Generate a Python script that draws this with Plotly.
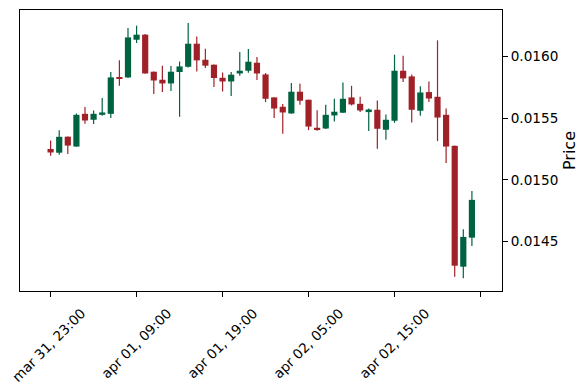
import plotly.graph_objects as go

# Hourly candles, mar 31 23:00 -> apr 03 00:00
opens = [0.015250, 0.015220, 0.015350, 0.015270, 0.015535, 0.015487, 0.015527, 0.015535, 0.015833, 0.015830,
         0.016135, 0.016176, 0.015876, 0.015811, 0.015781, 0.015874, 0.015916, 0.016103, 0.015973, 0.015933,
         0.015827, 0.015797, 0.015862, 0.015884, 0.015949, 0.015854, 0.015668, 0.015592, 0.015538, 0.015714,
         0.015649, 0.015422, 0.015416, 0.015522, 0.015544, 0.015668, 0.015616, 0.015549, 0.015568, 0.015406,
         0.015479, 0.015884, 0.015838, 0.015560, 0.015711, 0.015673, 0.015527, 0.015276, 0.014297, 0.014532]
highs = [0.015319, 0.015403, 0.015352, 0.015538, 0.015590, 0.015562, 0.015663, 0.015874, 0.015968, 0.016230,
         0.016249, 0.016182, 0.015878, 0.015925, 0.015922, 0.015959, 0.016271, 0.016162, 0.016062, 0.015935,
         0.015870, 0.015874, 0.016036, 0.016060, 0.015995, 0.015865, 0.015670, 0.015614, 0.015784, 0.015779,
         0.015650, 0.015565, 0.015608, 0.015657, 0.015789, 0.015762, 0.015673, 0.015578, 0.015643, 0.015530,
         0.016014, 0.016006, 0.015854, 0.015758, 0.015797, 0.016130, 0.015578, 0.015278, 0.014600, 0.014909]
lows = [0.015195, 0.015203, 0.015209, 0.015268, 0.015454, 0.015452, 0.015520, 0.015501, 0.015762, 0.015825,
        0.016109, 0.015860, 0.015695, 0.015711, 0.015719, 0.015511, 0.015911, 0.015878, 0.015906, 0.015752,
        0.015716, 0.015679, 0.015844, 0.015868, 0.015809, 0.015630, 0.015501, 0.015373, 0.015536, 0.015608,
        0.015403, 0.015398, 0.015412, 0.015473, 0.015542, 0.015603, 0.015549, 0.015395, 0.015252, 0.015325,
        0.015462, 0.015792, 0.015465, 0.015519, 0.015630, 0.015314, 0.015136, 0.014216, 0.014203, 0.014465]
closes = [0.015222, 0.015349, 0.015278, 0.015527, 0.015481, 0.015535, 0.015546, 0.015830, 0.015825, 0.016154,
          0.016176, 0.015862, 0.015805, 0.015781, 0.015876, 0.015919, 0.016103, 0.015968, 0.015925, 0.015825,
          0.015797, 0.015852, 0.015884, 0.015957, 0.015862, 0.015657, 0.015578, 0.015546, 0.015714, 0.015641,
          0.015432, 0.015406, 0.015527, 0.015552, 0.015657, 0.015611, 0.015562, 0.015570, 0.015414, 0.015487,
          0.015884, 0.015822, 0.015568, 0.015708, 0.015659, 0.015505, 0.015270, 0.014305, 0.014538, 0.014838]

tick_positions = [0, 10, 20, 30, 40, 50]
tick_labels = ["mar 31, 23:00", "apr 01, 09:00", "apr 01, 19:00", "apr 02, 05:00", "apr 02, 15:00", ""]
y_ticks = [0.0145, 0.0150, 0.0155, 0.0160]

UP = "#006340"
DOWN = "#a02128"

fig = go.Figure()
for is_up, color in [(True, UP), (False, DOWN)]:
    idx = [i for i in range(len(opens)) if (closes[i] >= opens[i]) == is_up]
    wx, wy = [], []
    for i in idx:
        wx += [i, i, None]
        wy += [lows[i], highs[i], None]
    fig.add_trace(go.Scatter(x=wx, y=wy, mode="lines",
                             line=dict(color=color, width=1.2),
                             hoverinfo="skip", showlegend=False))
    fig.add_trace(go.Bar(
        x=idx,
        base=[min(opens[i], closes[i]) for i in idx],
        y=[max(abs(closes[i] - opens[i]), 0.000006) for i in idx],
        width=0.72,
        marker=dict(color=color, line=dict(width=0)),
        showlegend=False))

fig.update_layout(
    width=588, height=390,
    margin=dict(l=20, r=86, t=10, b=99),
    paper_bgcolor="white", plot_bgcolor="white",
    barmode="overlay",
    font=dict(family="DejaVu Sans", size=13.6, color="black"),
    showlegend=False,
)
fig.update_xaxes(
    range=[-3.56, 52.5], automargin=False,
    tickmode="array", tickvals=tick_positions, ticktext=tick_labels,
    tickangle=-45, ticks="outside", ticklen=5, tickwidth=1, tickcolor="black",
    ticklabelshift=31, ticklabelstandoff=3,
    showgrid=False, zeroline=False,
    showline=True, linecolor="black", linewidth=1, mirror=True,
)
fig.update_yaxes(
    side="right", automargin=False,
    range=[0.01410, 0.016376],
    tickmode="array", tickvals=y_ticks, tickformat=".4f",
    ticks="outside", ticklen=5, tickwidth=1, tickcolor="black",
    showgrid=False, zeroline=False,
    showline=True, linecolor="black", linewidth=1, mirror=True,
    title=dict(text="Price", standoff=6),
)

fig.write_html("out.html", config={"displayModeBar": False},
               post_script="document.body.style.margin='0';")
